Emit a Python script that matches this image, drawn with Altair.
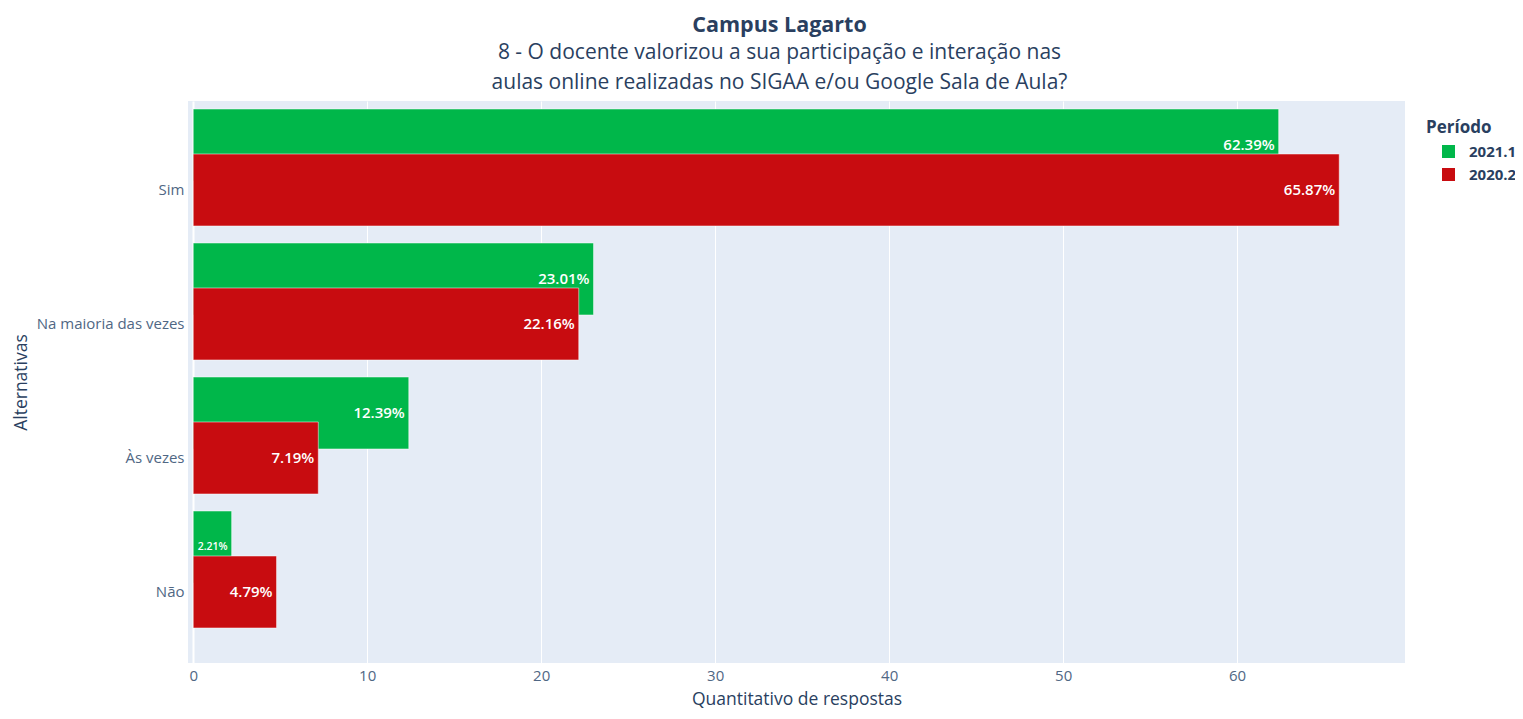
import altair as alt
import pandas as pd

alternativas = ["Sim", "Na maioria das vezes", "Às vezes", "Não"]
periodos = ["2021.1", "2020.2"]
valores_2021_1 = [62.39, 23.01, 12.39, 2.21]
valores_2020_2 = [65.87, 22.16, 7.19, 4.79]
x_ticks = [0, 10, 20, 30, 40, 50, 60]

rows = []
for a, v in zip(alternativas, valores_2021_1):
    rows.append({"alternativa": a, "periodo": "2021.1", "valor": v, "rotulo": f"{v:.2f}%"})
for a, v in zip(alternativas, valores_2020_2):
    rows.append({"alternativa": a, "periodo": "2020.2", "valor": v, "rotulo": f"{v:.2f}%"})
df = pd.DataFrame(rows)

GREEN = "#00b74a"
RED = "#c80c10"
FONT = "Open Sans"
TXT = "#2a3f5f"
TICK = "#506784"

x_enc = alt.X(
    "valor:Q",
    scale=alt.Scale(domain=[-0.3, 69.65], nice=False, zero=False),
    axis=alt.Axis(
        title="Quantitativo de respostas",
        values=x_ticks,
        grid=True,
        gridColor="white",
        gridWidth={"expr": "datum.value === 0 ? 2 : 1"},
        domain=False,
        ticks=False,
        labelPadding=5,
        labelFontSize=15,
        labelColor=TICK,
        labelFont=FONT,
        titleFont=FONT,
        titleFontSize=17.5,
        titleFontWeight="normal",
        titleColor=TXT,
        titlePadding=7,
    ),
)
y_enc = alt.Y(
    "alternativa:N",
    sort=alternativas,
    scale=alt.Scale(paddingInner=0, paddingOuter=0.097, align=0.846),
    axis=alt.Axis(
        title="Alternativas",
        domain=False,
        ticks=False,
        grid=False,
        labelPadding=4,
        labelFontSize=15,
        labelColor=TICK,
        labelFont=FONT,
        titleFont=FONT,
        titleFontSize=17.5,
        titleFontWeight="normal",
        titleColor=TXT,
        titlePadding=6,
    ),
)
color_enc = alt.Color(
    "periodo:N",
    scale=alt.Scale(domain=periodos, range=[GREEN, RED]),
    legend=alt.Legend(
        title="Período",
        orient="none",
        legendX=1238,
        legendY=19,
        titleFont=FONT,
        titleFontSize=17,
        titleFontWeight="bold",
        titleColor=TXT,
        titlePadding=7,
        labelFont=FONT,
        labelFontSize=15,
        labelFontWeight="bold",
        labelColor=TXT,
        symbolType="square",
        symbolSize=169,
        symbolStrokeWidth=0,
        symbolOpacity=1,
        symbolOffset=15,
        labelOffset=13,
        rowPadding=7,
    ),
)

base = alt.Chart(df)

green_bar = base.transform_filter(alt.datum.periodo == "2021.1").mark_bar(
    size=72, yOffset=-45, y2Offset=-45, stroke="white", strokeWidth=1, strokeOpacity=0.5, opacity=1
).encode(x=x_enc, y=y_enc, color=color_enc)

red_bar = base.transform_filter(alt.datum.periodo == "2020.2").mark_bar(
    size=72, stroke="white", strokeWidth=1, strokeOpacity=0.5, opacity=1
).encode(x=x_enc, y=y_enc, color=color_enc)

font_size = alt.condition("datum.valor < 4", alt.value(10.5), alt.value(15))

green_text = base.transform_filter(alt.datum.periodo == "2021.1").mark_text(
    align="right", baseline="middle", dx=-4, yOffset=-45, color="white", font=FONT, fontWeight=600
).encode(x=x_enc, y=y_enc, text="rotulo:N", size=font_size)

red_text = base.transform_filter(alt.datum.periodo == "2020.2").mark_text(
    align="right", baseline="middle", dx=-4, color="white", font=FONT, fontWeight=600
).encode(x=x_enc, y=y_enc, text="rotulo:N", size=font_size)

chart = (
    alt.layer(green_bar, red_bar, green_text, red_text)
    .properties(
        width=1217,
        height=562,
        autosize=alt.AutoSizeParams(type="none"),
        padding={"left": 180, "top": 93, "right": 110, "bottom": 48},
        background="white",
        title=alt.TitleParams(
            text="Campus Lagarto",
            subtitle=[
                "8 - O docente valorizou a sua participação e interação nas",
                "aulas online realizadas no SIGAA e/ou Google Sala de Aula?",
            ],
            anchor="middle",
            frame="group",
            dx=-17,
            offset=8,
            font=FONT,
            fontSize=21.5,
            fontWeight="bold",
            color=TXT,
            subtitleFont=FONT,
            subtitleFontSize=21,
            subtitleColor=TXT,
            subtitleLineHeight=30,
            subtitlePadding=6,
        ),
    )
    .configure_view(fill="#e5ecf6", strokeWidth=0)
)

chart.save("out.html", embed_options={"renderer": "svg", "actions": False})
